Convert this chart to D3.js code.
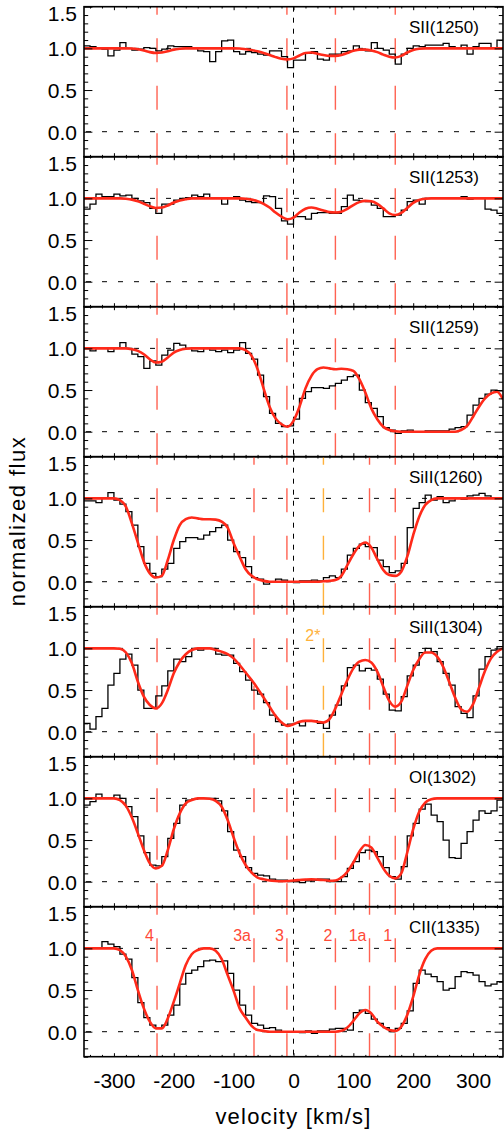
<!DOCTYPE html>
<html>
<head>
<meta charset="utf-8">
<script src="https://cdn.jsdelivr.net/npm/d3@7"></script>
<style>
  body { margin: 0; background: #fff; }
  svg { display: block; }
  text { font-family: "Liberation Sans", Arial, Helvetica, sans-serif; }
</style>
</head>
<body>
<svg id="chart" width="504" height="1133"></svg>
<script>
'use strict';

// Observed spectra: 10 km/s bins, first bin starts at -350 km/s
var binStart = -350
var binWidth = 10

var fluxSII1250 = [
  1.03, 1.02, 1.00, 0.99, 0.91, 0.98, 1.07, 1.00, 0.98, 0.99,
  1.01, 1.00, 0.97, 0.99, 1.03, 1.02, 1.02, 1.02, 1.01, 0.97,
  0.96, 0.84, 0.96, 1.09, 1.10, 0.96, 0.93, 0.96, 0.95, 0.93,
  0.92, 0.97, 0.97, 0.90, 0.77, 0.86, 0.86, 0.94, 0.96, 0.87,
  0.86, 0.93, 0.93, 0.96, 0.97, 1.03, 0.99, 0.97, 1.07, 1.00,
  0.98, 0.93, 0.81, 0.93, 1.00, 1.03, 1.02, 1.04, 1.04, 1.04,
  1.06, 1.02, 1.00, 1.04, 0.93, 1.02, 1.06, 1.06, 1.00, 1.10]

var fluxSII1253 = [
  0.87, 0.93, 1.05, 1.02, 1.02, 1.05, 1.03, 1.04, 1.00, 0.97,
  0.95, 0.88, 0.82, 0.93, 0.93, 0.98, 1.00, 1.01, 1.04, 1.02,
  1.05, 1.01, 1.00, 0.93, 1.00, 1.02, 0.98, 0.96, 0.95, 0.95,
  1.03, 1.02, 0.88, 0.73, 0.69, 0.78, 0.78, 0.75, 0.82, 0.83,
  0.83, 0.82, 0.82, 0.90, 1.04, 0.98, 0.97, 0.96, 0.92, 0.88,
  0.78, 0.78, 0.80, 0.86, 0.96, 0.98, 0.93, 1.00, 1.00, 1.01,
  1.00, 1.01, 1.00, 1.02, 0.99, 1.01, 1.01, 0.87, 0.86, 0.82]

var fluxSII1259 = [
  1.00, 0.97, 1.01, 1.00, 0.96, 1.01, 1.07, 1.00, 0.93, 0.90,
  0.76, 0.85, 0.80, 0.92, 0.98, 1.06, 1.04, 1.00, 0.97, 0.96,
  1.00, 0.98, 0.96, 0.98, 0.95, 0.98, 1.07, 0.94, 0.87, 0.68,
  0.42, 0.22, 0.10, 0.06, 0.07, 0.15, 0.40, 0.48, 0.53, 0.53,
  0.52, 0.55, 0.58, 0.62, 0.66, 0.68, 0.50, 0.35, 0.28, 0.18,
  0.05, 0.02, -0.02, 0.01, 0.02, 0.00, 0.00, 0.01, 0.01, 0.01,
  0.01, 0.03, 0.05, 0.06, 0.20, 0.32, 0.40, 0.45, 0.50, 0.49]

var fluxSiII1260 = [
  0.97, 0.97, 0.95, 1.00, 1.07, 0.98, 0.93, 0.84, 0.68, 0.42,
  0.22, 0.10, 0.06, 0.15, 0.22, 0.40, 0.48, 0.53, 0.53, 0.51,
  0.56, 0.60, 0.65, 0.68, 0.50, 0.36, 0.29, 0.18, 0.05, 0.03,
  -0.03, 0.00, 0.03, 0.02, 0.00, -0.01, 0.01, 0.01, 0.02, 0.01,
  0.05, 0.07, 0.05, 0.15, 0.32, 0.40, 0.45, 0.42, 0.41, 0.26,
  0.18, 0.11, 0.13, 0.22, 0.65, 0.88, 0.95, 1.04, 0.98, 1.02,
  0.95, 0.97, 1.00, 0.99, 1.03, 1.04, 1.06, 1.03, 1.00, 1.00]

var fluxSiII1304 = [
  0.10, 0.03, 0.18, 0.28, 0.56, 0.70, 0.87, 0.93, 0.80, 0.50,
  0.28, 0.28, 0.43, 0.55, 0.73, 0.87, 0.84, 0.90, 1.00, 0.98,
  1.00, 1.00, 0.93, 0.92, 0.92, 0.82, 0.72, 0.62, 0.50, 0.45,
  0.35, 0.20, 0.12, 0.08, 0.09, 0.10, 0.07, 0.13, 0.13, 0.10,
  0.04, 0.20, 0.32, 0.55, 0.77, 0.80, 0.73, 0.76, 0.74, 0.63,
  0.45, 0.26, 0.25, 0.42, 0.67, 0.80, 0.95, 1.00, 0.96, 0.84,
  0.70, 0.56, 0.30, 0.22, 0.17, 0.43, 0.75, 0.90, 0.98, 1.02]

var fluxOI1302 = [
  0.92, 0.96, 1.05, 1.01, 1.00, 1.04, 1.00, 0.90, 0.78, 0.55,
  0.35, 0.20, 0.19, 0.30, 0.52, 0.70, 0.92, 0.98, 0.99, 1.00,
  1.00, 1.00, 0.97, 0.85, 0.60, 0.38, 0.30, 0.17, 0.10, 0.08,
  0.07, 0.03, 0.02, 0.02, 0.00, 0.00, -0.01, 0.01, 0.02, 0.03,
  0.03, 0.00, 0.00, 0.06, 0.16, 0.24, 0.35, 0.38, 0.36, 0.30,
  0.17, 0.06, 0.03, 0.18, 0.55, 0.70, 0.87, 0.93, 0.80, 0.72,
  0.50, 0.29, 0.28, 0.46, 0.60, 0.74, 0.85, 0.82, 0.85, 0.98]

var fluxCII1335 = [
  1.00, 1.00, 1.00, 1.08, 1.05, 1.02, 0.93, 0.87, 0.65, 0.35,
  0.17, 0.08, 0.05, 0.08, 0.20, 0.32, 0.57, 0.70, 0.74, 0.78,
  0.85, 0.86, 0.84, 0.85, 0.70, 0.50, 0.32, 0.20, 0.10, 0.08,
  0.04, 0.05, 0.02, 0.00, 0.00, 0.00, -0.01, 0.01, -0.02, 0.01,
  0.01, 0.03, 0.04, 0.04, 0.02, 0.23, 0.26, 0.22, 0.15, 0.10,
  0.05, 0.00, 0.04, 0.10, 0.25, 0.58, 0.74, 0.69, 0.66, 0.60,
  0.50, 0.52, 0.66, 0.72, 0.71, 0.68, 0.60, 0.55, 0.57, 0.60]

// Fitted profiles, sampled every 10 km/s from -350 to 350
var modelVelocities = d3.range(-350, 351, 10)

var modelSII1250 = [
  1, 1, 1, 1, 1, 1, 1, 1, 0.998, 0.99,
  0.975, 0.955, 0.945, 0.95, 0.965, 0.985, 0.995, 1, 1, 1,
  1, 1, 1, 1, 1, 1, 0.998, 0.99, 0.98, 0.965,
  0.945, 0.92, 0.895, 0.875, 0.868, 0.88, 0.915, 0.945, 0.95, 0.935,
  0.92, 0.91, 0.91, 0.92, 0.945, 0.97, 0.985, 0.985, 0.975, 0.955,
  0.925, 0.9, 0.89, 0.91, 0.95, 0.98, 0.995, 1, 1, 1,
  1, 1, 1, 1, 1, 1, 1, 1, 1, 1,
  1]

var modelSII1253 = [
  1, 1, 1, 1, 1, 1, 1, 0.995, 0.985, 0.965,
  0.935, 0.905, 0.885, 0.89, 0.915, 0.95, 0.975, 0.99, 1, 1,
  1, 1, 1, 1, 1, 1, 1, 0.995, 0.985, 0.965,
  0.935, 0.89, 0.83, 0.78, 0.75, 0.77, 0.83, 0.875, 0.89, 0.875,
  0.855, 0.835, 0.83, 0.84, 0.875, 0.92, 0.955, 0.97, 0.965, 0.935,
  0.88, 0.82, 0.8, 0.825, 0.885, 0.945, 0.98, 0.995, 1, 1,
  1, 1, 1, 1, 1, 1, 1, 1, 1, 1,
  1]

var modelSII1259 = [
  1, 1, 1, 1, 1, 1, 1, 1, 0.99, 0.97,
  0.93, 0.87, 0.83, 0.84, 0.89, 0.95, 0.98, 0.995, 1, 1,
  1, 1, 1, 1, 1, 1, 1, 0.98, 0.91, 0.75,
  0.52, 0.3, 0.16, 0.09, 0.06, 0.13, 0.3, 0.52, 0.67, 0.75,
  0.77, 0.76, 0.75, 0.755, 0.75, 0.73, 0.63, 0.47, 0.28, 0.15,
  0.06, 0.02, 0.005, 0, 0, 0, 0, 0, 0, 0,
  0, 0, 0, 0.02, 0.07, 0.18, 0.3, 0.4, 0.46, 0.48,
  0.39]

var modelSiII1260 = [
  1, 1, 1, 1, 1, 1, 0.98, 0.9, 0.7, 0.47,
  0.24, 0.1, 0.05, 0.07, 0.26, 0.5, 0.68, 0.75, 0.77, 0.76,
  0.75, 0.75, 0.745, 0.72, 0.65, 0.46, 0.3, 0.15, 0.07, 0.03,
  0.01, 0, 0, 0, 0, 0, 0, 0, 0, 0,
  0.005, 0.01, 0.02, 0.07, 0.2, 0.33, 0.43, 0.47, 0.41, 0.27,
  0.14, 0.08, 0.07, 0.12, 0.3, 0.56, 0.78, 0.92, 0.98, 1,
  1, 1, 1, 1, 1, 1, 1, 1, 1, 1,
  1]

var modelSiII1304 = [
  1, 1, 1, 1, 1, 1, 0.995, 0.95, 0.82, 0.6,
  0.42, 0.32, 0.28, 0.34, 0.5, 0.7, 0.84, 0.93, 0.98, 1,
  1, 1, 0.98, 0.96, 0.93, 0.88, 0.8, 0.71, 0.62, 0.52,
  0.41, 0.3, 0.19, 0.11, 0.07, 0.09, 0.12, 0.13, 0.13, 0.12,
  0.11, 0.15, 0.28, 0.45, 0.62, 0.76, 0.84, 0.86, 0.83, 0.72,
  0.54, 0.37, 0.3, 0.36, 0.55, 0.74, 0.87, 0.95, 0.95, 0.9,
  0.78, 0.6, 0.41, 0.27, 0.24, 0.33, 0.53, 0.73, 0.88, 0.96,
  1]

var modelOI1302 = [
  1, 1, 1, 1, 1, 1, 0.98, 0.91, 0.77, 0.58,
  0.38, 0.22, 0.16, 0.19, 0.38, 0.63, 0.82, 0.94, 0.98, 1,
  1, 0.995, 0.97, 0.9, 0.74, 0.53, 0.34, 0.2, 0.11, 0.05,
  0.03, 0.015, 0.008, 0.005, 0.008, 0.015, 0.02, 0.025, 0.028, 0.025,
  0.02, 0.012, 0.015, 0.05, 0.12, 0.23, 0.36, 0.44, 0.41, 0.29,
  0.16, 0.07, 0.04, 0.1, 0.35, 0.63, 0.84, 0.95, 0.99, 1,
  1, 1, 1, 1, 1, 1, 1, 1, 1, 1,
  1]

var modelCII1335 = [
  1, 1, 1, 1, 1, 1, 0.98, 0.9, 0.74, 0.5,
  0.28, 0.12, 0.04, 0.04, 0.16, 0.36, 0.58, 0.8, 0.93, 0.98,
  1, 1, 0.97, 0.87, 0.68, 0.49, 0.28, 0.17, 0.07, 0.02,
  0.01, 0, 0, 0, 0, 0, 0, 0, 0, 0,
  0, 0, 0, 0.01, 0.05, 0.13, 0.22, 0.26, 0.22, 0.12,
  0.06, 0.02, 0.01, 0.06, 0.2, 0.42, 0.68, 0.87, 0.97, 1,
  1, 1, 1, 1, 1, 1, 1, 1, 1, 1,
  1]

var panelLabels = ['SII(1250)', 'SII(1253)', 'SII(1259)', 'SiII(1260)', 'SiII(1304)', 'OI(1302)', 'CII(1335)']
var panelFlux = [fluxSII1250, fluxSII1253, fluxSII1259, fluxSiII1260, fluxSiII1304, fluxOI1302, fluxCII1335]
var panelModel = [modelSII1250, modelSII1253, modelSII1259, modelSiII1260, modelSiII1304, modelOI1302, modelCII1335]

// velocity components
var componentLabels = ['4', '3a', '3', '2*', '2', '1a', '1']
var componentVelocities = [-228, -66, -11, 50, 70, 127, 170]
var panelComponents = [
  ['4', '3', '2', '1'],
  ['4', '3', '2', '1'],
  ['4', '3', '2', '1'],
  ['4', '3a', '3', '2*', '1a', '1'],
  ['4', '3a', '3', '2*', '1a', '1'],
  ['4', '3a', '3', '2', '1a', '1'],
  ['4', '3a', '3', '2', '1a', '1']
]
var panelComponentLabels = [[], [], [], [], ['2*'], [], ['4', '3a', '3', '2', '1a', '1']]

var yMajor = [0, 0.5, 1, 1.5]
var yMinor = d3.range(-3, 16).filter(function(k){ return k % 5 !== 0 }).map(function(k){ return k / 10 })
var xMajor = d3.range(-300, 301, 100)
var xMinor = d3.range(-340, 341, 20).filter(function(v){ return v % 100 !== 0 })

// Layout
var plotLeft = 84, plotRight = 503, plotTop = 6.7, panelH = 150
var red = '#ff2a1a', compRed = '#ff6252', labelRed = '#ff4a38', orange = '#ffb13b'

var svg = d3.select('#chart')
var x = d3.scaleLinear().domain([-350, 350]).range([plotLeft, plotRight])

var compColor = function(c){ return c === '2*' ? orange : compRed }
var compX = function(c){ return x(componentVelocities[componentLabels.indexOf(c)]) }

panelLabels.forEach(function(label, i) {
  var y0 = plotTop + i * panelH
  var y = d3.scaleLinear().domain([-0.3, 1.5]).range([y0 + panelH, y0])
  var g = svg.append('g')

  svg.append('clipPath').attr('id', 'clip' + i)
    .append('rect')
      .attr('x', plotLeft).attr('y', y0)
      .attr('width', plotRight - plotLeft).attr('height', panelH)

  // dashed reference levels at 0 and 1
  g.selectAll('line.level')
      .data([0, 1])
    .enter().append('line')
      .attr('class', 'level')
      .attr('x1', plotLeft).attr('x2', plotRight)
      .attr('y1', function(d){ return y(d) })
      .attr('y2', function(d){ return y(d) })
      .style('stroke', '#000')
      .style('stroke-width', 1)
      .style('stroke-dasharray', '5,11')
      .style('stroke-dashoffset', -2)

  // v = 0
  g.append('line')
    .attr('x1', x(0)).attr('x2', x(0))
    .attr('y1', y0).attr('y2', y0 + panelH)
    .style('stroke', '#000')
    .style('stroke-width', 1)
    .style('stroke-dasharray', '5,6')

  // component markers
  g.selectAll('line.comp')
      .data(panelComponents[i])
    .enter().append('line')
      .attr('class', 'comp')
      .attr('x1', compX).attr('x2', compX)
      .attr('y1', y0).attr('y2', y0 + panelH)
      .style('stroke', compColor)
      .style('stroke-width', 1.4)
      .style('stroke-dasharray', '24,23.5')
      .style('stroke-dashoffset', 16)

  g.selectAll('text.comp')
      .data(panelComponentLabels[i])
    .enter().append('text')
      .attr('class', 'comp')
      .attr('x', function(c){ return compX(c) - 3 })
      .attr('y', y0 + 34.3)
      .attr('text-anchor', 'end')
      .style('font-size', '16px')
      .style('fill', function(c){ return c === '2*' ? orange : labelRed })
      .text(function(c){ return c })

  // observed histogram
  var flux = panelFlux[i]
  var steps = flux.map(function(f, k){ return [binStart + k * binWidth, f] })
  steps.push([binStart + flux.length * binWidth, flux[flux.length - 1]])

  g.append('path')
    .datum(steps)
    .attr('clip-path', 'url(#clip' + i + ')')
    .attr('d', d3.line()
      .x(function(d){ return x(d[0]) })
      .y(function(d){ return y(d[1]) })
      .curve(d3.curveStepAfter))
    .style('fill', 'none')
    .style('stroke', '#000')
    .style('stroke-width', 1.3)

  // fitted model
  var model = panelModel[i].map(function(f, k){ return [modelVelocities[k], f] })
  g.append('path')
    .datum(model)
    .attr('clip-path', 'url(#clip' + i + ')')
    .attr('d', d3.line()
      .x(function(d){ return x(d[0]) })
      .y(function(d){ return y(d[1]) })
      .curve(d3.curveMonotoneX))
    .style('fill', 'none')
    .style('stroke', red)
    .style('stroke-width', 2.6)
    .style('stroke-linejoin', 'round')

  // ion label
  g.append('text')
    .attr('x', 409)
    .attr('y', y0 + 26.6)
    .style('font-size', '17px')
    .style('fill', '#000')
    .text(label)

  // ticks on all four sides, pointing in
  var noLabel = function(){ return '' }
  var yLeft = g.append('g').attr('transform', 'translate(' + plotLeft + ',0)')
    .call(d3.axisLeft(y).tickValues(yMajor).tickSize(-8.4).tickSizeOuter(0).tickPadding(7)
      .tickFormat(d3.format('.1f')))
  yLeft.selectAll('text')
    .attr('dy', '0.36em')
    .attr('y', function(d){ return d === 1.5 ? 6 : 0 })
  g.append('g').attr('transform', 'translate(' + plotLeft + ',0)')
    .call(d3.axisLeft(y).tickValues(yMinor).tickSize(-4.2).tickSizeOuter(0).tickFormat(noLabel))
  g.append('g').attr('transform', 'translate(' + plotRight + ',0)')
    .call(d3.axisRight(y).tickValues(yMajor).tickSize(-8.4).tickSizeOuter(0).tickFormat(noLabel))
  g.append('g').attr('transform', 'translate(' + plotRight + ',0)')
    .call(d3.axisRight(y).tickValues(yMinor).tickSize(-4.2).tickSizeOuter(0).tickFormat(noLabel))

  var isLast = i === panelLabels.length - 1
  g.append('g').attr('transform', 'translate(0,' + (y0 + panelH) + ')')
    .call(d3.axisBottom(x).tickValues(xMajor).tickSize(-3.5).tickSizeOuter(0).tickPadding(16.4)
      .tickFormat(isLast ? function(d){ return String(d) } : noLabel))
  g.append('g').attr('transform', 'translate(0,' + (y0 + panelH) + ')')
    .call(d3.axisBottom(x).tickValues(xMinor).tickSize(-1.8).tickSizeOuter(0).tickFormat(noLabel))
  g.append('g').attr('transform', 'translate(0,' + y0 + ')')
    .call(d3.axisTop(x).tickValues(xMajor).tickSize(-3.5).tickSizeOuter(0).tickFormat(noLabel))
  g.append('g').attr('transform', 'translate(0,' + y0 + ')')
    .call(d3.axisTop(x).tickValues(xMinor).tickSize(-1.8).tickSizeOuter(0).tickFormat(noLabel))

  // frame
  g.append('rect')
    .attr('x', plotLeft).attr('y', y0)
    .attr('width', plotRight - plotLeft).attr('height', panelH)
    .style('fill', 'none')
    .style('stroke', '#000')
    .style('stroke-width', 1.6)
})

svg.selectAll('.domain').remove()
svg.selectAll('.tick line').style('stroke', '#000').style('stroke-width', 1)
svg.selectAll('.tick text')
  .style('font-size', '21px')
  .style('font-family', '"Liberation Sans", Arial, Helvetica, sans-serif')
  .style('fill', '#000')

// axis titles
svg.append('text')
  .attr('x', x(0))
  .attr('y', 1124)
  .attr('text-anchor', 'middle')
  .style('font-size', '22px')
  .style('letter-spacing', '1.2px')
  .text('velocity [km/s]')

svg.append('text')
  .attr('transform', 'translate(25,521) rotate(-90)')
  .attr('text-anchor', 'middle')
  .style('font-size', '22px')
  .style('letter-spacing', '1.5px')
  .text('normalized flux')
</script>
</body>
</html>
